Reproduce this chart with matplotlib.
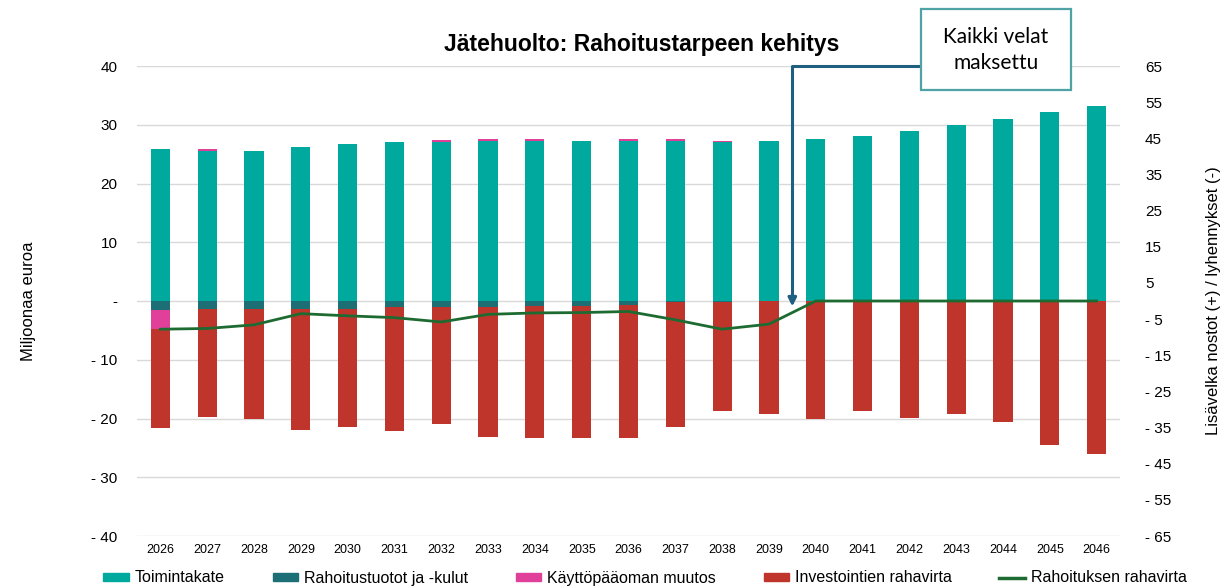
import numpy as np
import matplotlib.pyplot as plt
from matplotlib.patches import Rectangle
from matplotlib.lines import Line2D
from matplotlib.patches import Patch

# ----------------------------
# Data (milj. euroa)
# ----------------------------
years = [str(y) for y in range(2026, 2047)]

toimintakate = [25.9, 25.5, 25.6, 26.2, 26.7, 27.1, 27.1, 27.3, 27.3, 27.3, 27.3,
                27.3, 27.0, 27.3, 27.6, 28.1, 28.9, 29.9, 30.9, 32.1, 33.2]
rahoitus_tuotot = [-1.6, -1.3, -1.3, -1.3, -1.3, -1.1, -1.0, -1.0, -0.9, -0.8, -0.7,
                   -0.2, -0.1, 0.0, 0.0, 0.0, 0.0, 0.0, 0.0, 0.0, 0.0]
kayttopaaoma = [-3.2, 0.3, 0.0, 0.0, 0.0, 0.0, 0.3, 0.3, 0.3, 0.0, 0.3,
                0.3, 0.3, 0.0, 0.0, 0.0, 0.0, 0.0, 0.0, 0.0, 0.0]
investoinnit = [-16.9, -18.5, -18.8, -20.7, -20.1, -21.1, -19.9, -22.1, -22.5, -22.6, -22.7,
                -21.3, -18.6, -19.2, -20.1, -18.7, -19.9, -19.2, -20.6, -24.5, -26.1]
# oikea akseli
rahoituksen_rahavirta = [-7.8, -7.6, -6.6, -3.5, -4.1, -4.6, -5.8, -3.7, -3.3, -3.2, -2.9,
                         -5.2, -7.8, -6.4, 0.0, 0.0, 0.0, 0.0, 0.0, 0.0, 0.0]

C_TEAL = "#00a99d"
C_DARK = "#1b6f75"
C_PINK = "#e0409a"
C_RED = "#c0352b"
C_GREEN = "#1e6b32"

plt.rcParams["font.family"] = ["Liberation Sans", "DejaVu Sans"]

fig = plt.figure(figsize=(12.3, 5.88), dpi=100)
ax = fig.add_axes([137 / 1230, 1 - 536 / 588, (1120 - 137) / 1230, (536 - 66) / 588])
ax2 = ax.twinx()

x = np.arange(len(years))
w = 0.41

toim = np.array(toimintakate)
rah = np.array(rahoitus_tuotot)
kay = np.array(kayttopaaoma)
inv = np.array(investoinnit)

# pinotaan erikseen positiiviset ja negatiiviset
pos_base = np.zeros(len(x))
neg_base = np.zeros(len(x))
for vals, col in [(toim, C_TEAL), (rah, C_DARK), (kay, C_PINK), (inv, C_RED)]:
    p = np.where(vals > 0, vals, 0)
    n = np.where(vals < 0, vals, 0)
    ax.bar(x, p, w, bottom=pos_base, color=col, zorder=3)
    ax.bar(x, n, w, bottom=neg_base, color=col, zorder=3)
    pos_base += p
    neg_base += n

ax.set_ylim(-40, 40)
ax.set_yticks(np.arange(-40, 41, 10))
ax.set_yticklabels([("- %d" % -v) if v < 0 else ("-" if v == 0 else "%d" % v)
                    for v in range(-40, 41, 10)], fontsize=11)
ax.set_xlim(-0.5, len(x) - 0.5)
ax.set_xticks(x)
ax.set_xticklabels(years, fontsize=9)
ax.grid(axis="y", color="#d9d9d9", lw=1, zorder=0)
ax.set_axisbelow(True)
ax.tick_params(axis="y", length=0, pad=14)
ax.tick_params(axis="x", length=0, pad=6)
for s in ax.spines.values():
    s.set_visible(False)

ax2.plot(x, rahoituksen_rahavirta, color=C_GREEN, lw=2, zorder=5)
ax2.set_ylim(-65, 65)
ax2.set_yticks(np.arange(-65, 66, 10))
ax2.set_yticklabels([("- %d" % -v) if v < 0 else "%d" % v for v in range(-65, 66, 10)],
                    fontsize=11)
ax2.tick_params(length=0, pad=18)
for s in ax2.spines.values():
    s.set_visible(False)

ax.set_ylabel("Miljoonaa euroa", fontsize=12, labelpad=40)
ax2.set_ylabel("Lisävelka nostot (+) / lyhennykset (-)", fontsize=12, labelpad=25)

fig.text(642 / 1230, 1 - 44 / 588, "Jätehuolto: Rahoitustarpeen kehitys",
         ha="center", va="center", fontsize=16.5, fontweight="bold")

# huomautus: Kaikki velat maksettu
ax.plot([16.24, 13.5, 13.5], [40, 40, 1], color="#1f5f7f", lw=2.2, clip_on=False, zorder=6)
ax.annotate("", xy=(13.5, -1.4), xytext=(13.5, 1.5),
            arrowprops=dict(arrowstyle="-|>", color="#1f5f7f", lw=2.2, mutation_scale=12),
            zorder=6, annotation_clip=False)
fig.patches.append(Rectangle((921 / 1230, 1 - 90 / 588), 150 / 1230, 81 / 588,
                             transform=fig.transFigure, facecolor="white",
                             edgecolor="#4fa3a5", lw=1.6, zorder=10))
fig.text(996 / 1230, 1 - 50 / 588, "Kaikki velat\nmaksettu", ha="center", va="center",
         fontsize=15, linespacing=1.35, family=["Lato", "DejaVu Sans"], zorder=11)

handles = [Patch(color=C_TEAL), Patch(color=C_DARK), Patch(color=C_PINK),
           Patch(color=C_RED), Line2D([0], [0], color=C_GREEN, lw=2.5)]
labels = ["Toimintakate", "Rahoitustuotot ja -kulut", "Käyttöpääoman muutos",
          "Investointien rahavirta", "Rahoituksen rahavirta"]
fig.legend(handles, labels, loc="center", bbox_to_anchor=(645 / 1230, 1 - 578 / 588), ncol=5,
           frameon=False, fontsize=11.5, columnspacing=3.0, handlelength=1.6,
           handleheight=0.45, handletextpad=0.35)

fig.savefig("out.png", dpi=100)
